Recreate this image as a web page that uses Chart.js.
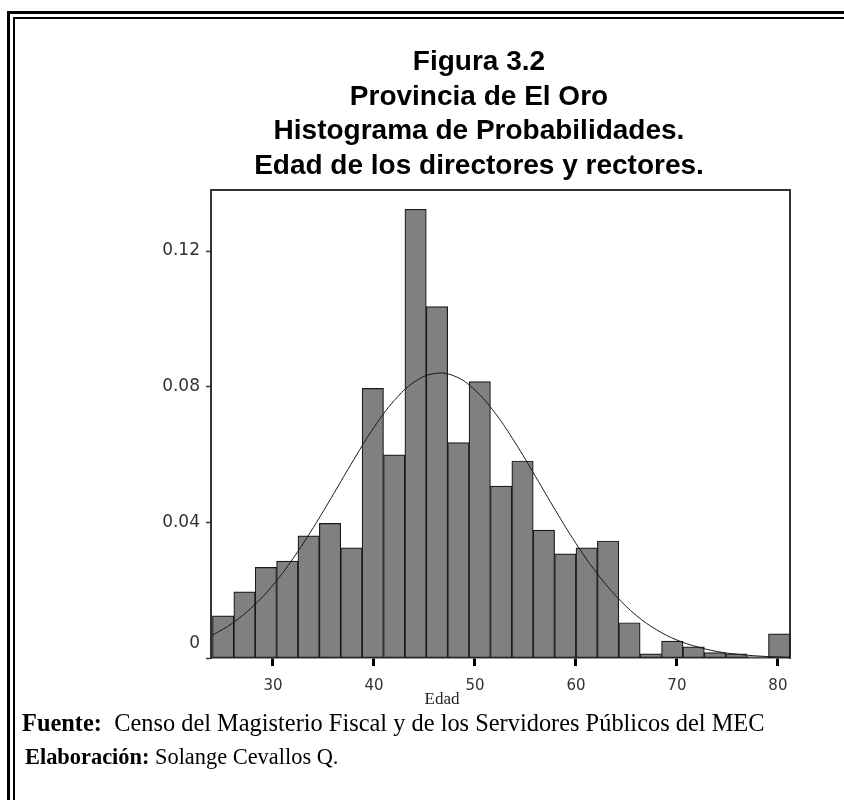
<!DOCTYPE html>
<html>
<head>
<meta charset="utf-8">
<script src="https://cdn.jsdelivr.net/npm/chart.js@4.4.1/dist/chart.umd.min.js"></script>
<style>
  html, body { margin: 0; padding: 0; background: #fff; }
  #page { position: relative; width: 844px; height: 800px; overflow: hidden; }
  #frameOuter { position: absolute; left: 7px; top: 11px; width: 900px; height: 900px;
    border-left: 3px solid #000; border-top: 3px solid #000; }
  #frameInner { position: absolute; left: 13px; top: 17px; width: 900px; height: 900px;
    border-left: 2px solid #000; border-top: 2px solid #000; }
  #title { position: absolute; left: 129px; top: 44px; width: 700px; text-align: center;
    font-family: "Liberation Sans", Arial, sans-serif; font-weight: bold; font-size: 28px;
    line-height: 34.5px; color: #000; }
  #xTitle { position: absolute; left: 402px; width: 80px; top: 689px; text-align: center;
    font-family: "Liberation Serif", serif; font-size: 17px; color: #222; }
  .note { position: absolute; font-family: "Liberation Serif", serif; font-size: 24.4px;
    line-height: 28px; color: #000; white-space: nowrap; }
  #chart { position: absolute; left: 0; top: 0; }
</style>
</head>
<body>
<div id="page">
  <div id="frameOuter"></div>
  <div id="frameInner"></div>
  <canvas id="chart" width="844" height="800"></canvas>
  <div id="title">Figura 3.2<br>Provincia de El Oro<br>Histograma de Probabilidades.<br>Edad de los directores y rectores.</div>
  <div id="xTitle">Edad</div>
  <div class="note" style="left:22px; top:709px;"><b>Fuente:</b>&nbsp; Censo del Magisterio Fiscal y de los Servidores Públicos del MEC</div>
  <div class="note" style="left:25px; top:743px; font-size:22.4px;"><b>Elaboración:</b> Solange Cevallos Q.</div>
</div>
<script>
// Histogram bins (age)
const binStart = 24;
const binWidth = 2.118;
const binProb = [0.0124, 0.0195, 0.0267, 0.0286, 0.0360, 0.0397, 0.0325, 0.0795, 0.0599,
                 0.1323, 0.1036, 0.0635, 0.0815, 0.0507, 0.0581, 0.0377, 0.0307, 0.0325,
                 0.0345, 0.0104, 0.0012, 0.0050, 0.0033, 0.0016, 0.0012, 0.0004, 0.0071];

// Normal curve drawn over the histogram
const curveAge  = [24, 26, 28, 30, 32, 34, 36, 38, 40, 42, 44, 46, 48, 50, 52,
                   54, 56, 58, 60, 62, 64, 66, 68, 70, 72, 74, 76, 78, 80, 81.2];
const curveProb = [0.0067, 0.0103, 0.0152, 0.0215, 0.0294, 0.0385, 0.0484, 0.0585, 0.0680, 0.0759,
                   0.0814, 0.0839, 0.0831, 0.0790, 0.0722, 0.0634, 0.0535, 0.0434, 0.0338, 0.0253,
                   0.0182, 0.0125, 0.0083, 0.0053, 0.0033, 0.0019, 0.0011, 0.0006, 0.0003, 0.0002];

// Axis ticks
const xTicks = [30, 40, 50, 60, 70, 80];
const yTicks = [0, 0.04, 0.08, 0.12];
const yTickLabels = [['0', ''], '0.04', '0.08', '0.12'];

// bar data at bin centres
const barData = binProb.map(function(p, i) {
    return { x: binStart + binWidth * (i + 0.5), y: p };
});
const curveData = curveAge.map(function(a, i) {
    return { x: a, y: curveProb[i] };
});

const ctx = document.getElementById('chart').getContext('2d');
new Chart(ctx, {
    type: 'bar',
    data: {
        datasets: [{
            type: 'line',
            data: curveData,
            borderColor: '#1a1a1a',
            borderWidth: 1,
            pointRadius: 0,
            tension: 0.4,
            fill: false,
            order: 0
        }, {
            type: 'bar',
            data: barData,
            backgroundColor: '#808080',
            borderColor: '#1a1a1a',
            borderWidth: 1.2,
            borderSkipped: false,
            categoryPercentage: 1,
            barPercentage: 1,
            order: 1
        }]
    },
    options: {
        responsive: false,
        animation: false,
        layout: { padding: { left: 140, right: 54, top: 190, bottom: 92 } },
        plugins: { legend: { display: false }, tooltip: { enabled: false } },
        scales: {
            x: {
                type: 'linear',
                offset: false,
                min: 23.86,
                max: 81.2,
                afterBuildTicks: function(scale) {
                    scale.ticks = xTicks.map(function(v) { return { value: v }; });
                },
                afterFit: function(scale) { scale.height = 50; },
                grid: { offset: false, drawOnChartArea: false, tickLength: 8, tickWidth: 3, tickColor: '#000' },
                border: { display: true, color: '#333', width: 1.5 },
                ticks: {
                    padding: 11,
                    maxRotation: 0,
                    color: '#333',
                    font: { family: 'DejaVu Sans', size: 15 }
                }
            },
            x2: {
                type: 'linear',
                position: 'top',
                offset: false,
                min: 23.86,
                max: 81.2,
                afterFit: function(scale) { scale.height = 0; },
                grid: { display: false },
                border: { display: true, color: '#333', width: 2 },
                ticks: { display: false }
            },
            y: {
                min: 0,
                max: 0.138,
                afterBuildTicks: function(scale) {
                    scale.ticks = yTicks.map(function(v) { return { value: v }; });
                },
                afterFit: function(scale) { scale.width = 71; },
                grid: { drawOnChartArea: false, tickLength: 5, tickWidth: 1.5, tickColor: '#333' },
                border: { display: true, color: '#333', width: 2 },
                ticks: {
                    padding: 6,
                    color: '#333',
                    font: { family: 'DejaVu Sans', size: 17, lineHeight: 1.7 },
                    callback: function(value, index) { return yTickLabels[index]; }
                }
            },
            y2: {
                position: 'right',
                min: 0,
                max: 0.138,
                afterFit: function(scale) { scale.width = 0; },
                grid: { display: false },
                border: { display: true, color: '#333', width: 2 },
                ticks: { display: false }
            }
        }
    }
});
</script>
</body>
</html>
